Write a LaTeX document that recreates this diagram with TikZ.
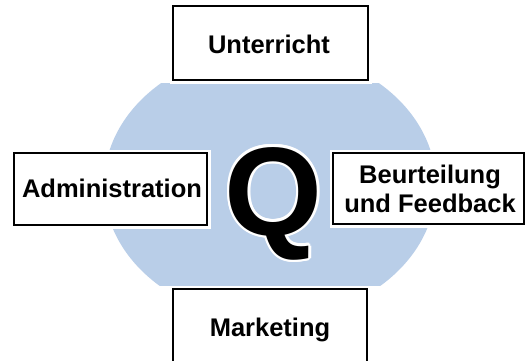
\documentclass[tikz,border=0pt]{standalone}
\usepackage{fontspec}
\setmainfont{Liberation Sans}
\usetikzlibrary{calc}
\definecolor{qblue}{RGB}{185,206,232}
\begin{document}
\begin{tikzpicture}[x=1bp,y=-1bp,
  qbox/.style={draw=black, fill=white, line width=1.8bp, inner sep=0pt,
    preaction={draw=white, line width=7bp}},
  qtext/.style={anchor=base, inner sep=0pt, font=\fontsize{25.5bp}{29bp}\selectfont\bfseries},
  qletter/.style={anchor=base, inner sep=0pt, font=\fontsize{126bp}{126bp}\selectfont\bfseries}]
\useasboundingbox (0,0) rectangle (530,360);
\clip (0,0) rectangle (530,360);
\fill[white] (0,0) rectangle (530,360);
% blue ellipse, flattened at top and bottom
\begin{scope}
  \clip (0,83) rectangle (530,285);
  \fill[qblue] (270,185) ellipse [x radius=166, y radius=135];
\end{scope}
% boxes
\node[qbox, minimum width=195bp, minimum height=74bp] (unt) at (270.5,43) {};
\node[qbox, minimum width=193bp, minimum height=72bp] (adm) at (110.5,189) {};
\node[qbox, minimum width=191bp, minimum height=71bp] (beu) at (428.5,188.5) {};
\node[qbox, minimum width=194bp, minimum height=81bp] (mar) at (270,329.5) {};
% texts
\node[qtext] (tunt) at (269,53) {Unterricht};
\node[qtext] (tadm) at (112,197.5) {Administration};
\node[qtext] (tbeu1) at (430,183) {Beurteilung};
\node[qtext] (tbeu2) at (430,212) {und Feedback};
\node[qtext] (tmar) at (270,336) {Marketing};
% Q with white halo
\foreach \a in {0,30,...,330} {
  \node[qletter, text=white] at ($(273.5,235)+(\a:2.5)$) {Q};
}
\node[qletter] (q) at (273.5,235) {Q};
\end{tikzpicture}
\end{document}
